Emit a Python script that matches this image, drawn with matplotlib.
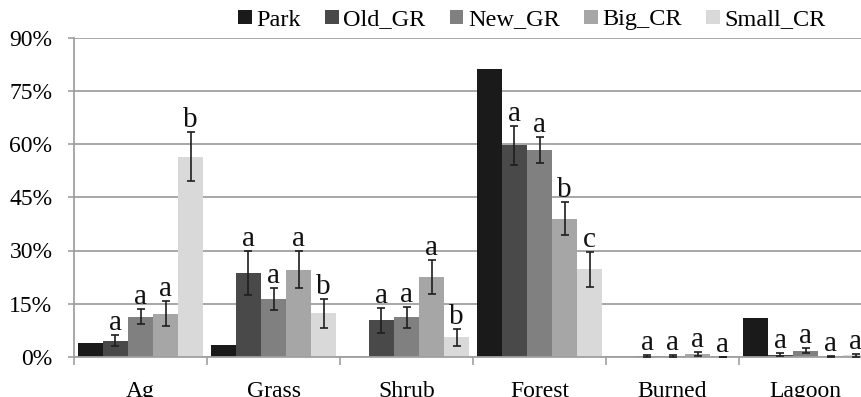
import numpy as np
import matplotlib
matplotlib.use('Agg')
import matplotlib.pyplot as plt
from matplotlib.patches import Patch
from matplotlib.ticker import FixedLocator, PercentFormatter

plt.rcParams['font.family'] = ['Liberation Serif', 'DejaVu Serif']

categories = ['Ag', 'Grass', 'Shrub', 'Forest', 'Burned', 'Lagoon']
series = ['Park', 'Old_GR', 'New_GR', 'Big_CR', 'Small_CR']
colors = ['#1a1a1a', '#494949', '#808080', '#a6a6a6', '#d9d9d9']

# mean percent cover per category
park = [3.9, 3.3, 0.0, 81.1, 0.0, 11.1]
old_gr = [4.6, 23.7, 10.4, 59.6, 0.4, 0.6]
new_gr = [11.4, 16.3, 11.2, 58.4, 0.4, 1.8]
big_cr = [12.2, 24.6, 22.5, 39.0, 0.9, 0.2]
small_cr = [56.4, 12.3, 5.5, 24.7, 0.0, 0.5]

# standard errors (Park has none)
old_gr_err = [1.6, 6.1, 3.5, 5.6, 0.3, 0.4]
new_gr_err = [2.1, 3.2, 3.0, 3.7, 0.3, 0.7]
big_cr_err = [3.6, 5.3, 4.7, 4.6, 0.6, 0.2]
small_cr_err = [6.9, 4.0, 2.4, 5.0, 0.0, 0.4]

# significance letters
old_gr_lab = ['a', 'a', 'a', 'a', 'a', 'a']
new_gr_lab = ['a', 'a', 'a', 'a', 'a', 'a']
big_cr_lab = ['a', 'a', 'a', 'b', 'a', 'a']
small_cr_lab = ['b', 'b', 'b', 'c', 'a', 'a']

values = [park, old_gr, new_gr, big_cr, small_cr]
errors = [None, old_gr_err, new_gr_err, big_cr_err, small_cr_err]
letters = [None, old_gr_lab, new_gr_lab, big_cr_lab, small_cr_lab]

W, H = 861, 397
fig = plt.figure(figsize=(W / 100, H / 100), dpi=100)
ax = fig.add_axes([74 / W, 1 - 357 / H, 798 / W, 319.5 / H])

x = np.arange(len(categories))
bw = 0.188
grid_c = '#a0a0a0'

for k in range(len(series)):
    xs = x + (k - 2) * bw
    ax.bar(xs, values[k], width=bw, color=colors[k], zorder=2)
    if errors[k] is not None:
        ax.errorbar(xs, values[k], yerr=errors[k], fmt='none', ecolor='#1e1e1e',
                    elinewidth=1.2, capsize=3.2, capthick=1.2, zorder=3)
        for xi, v, e, lab in zip(xs, values[k], errors[k], letters[k]):
            ax.text(xi, v + e + 1.4, lab, ha='center', va='baseline',
                    fontsize=21, color='#111111', zorder=4)

ax.set_xlim(-0.5, len(categories) - 0.5)
ax.set_ylim(0, 90)
ax.set_yticks(np.arange(0, 91, 15))
ax.yaxis.set_major_formatter(PercentFormatter(decimals=0))
ax.yaxis.grid(True, color=grid_c, linewidth=1.3, zorder=0)
ax.set_axisbelow(True)

ax.xaxis.set_major_locator(FixedLocator(np.arange(-0.5, len(categories), 1)))
ax.xaxis.set_minor_locator(FixedLocator(x))
ax.set_xticklabels([])
ax.set_xticklabels(categories, minor=True)
ax.tick_params(axis='x', which='major', length=6, width=1.2, color=grid_c, direction='out')
ax.tick_params(axis='x', which='minor', length=0, pad=17, labelsize=17)
ax.tick_params(axis='y', length=4.5, width=1.2, color=grid_c, pad=11, labelsize=17)

for s in ['top', 'right']:
    ax.spines[s].set_visible(False)
for s in ['left', 'bottom']:
    ax.spines[s].set_color(grid_c)
    ax.spines[s].set_linewidth(1.3)

handles = [Patch(facecolor=c, edgecolor='none') for c in colors]
fig.legend(handles, series, loc='center', bbox_to_anchor=(532 / W, 1 - 20 / H),
           ncol=5, frameon=False, fontsize=17.5, handlelength=0.55, handleheight=0.55,
           handletextpad=0.2, columnspacing=1.0, borderpad=0, borderaxespad=0)

fig.savefig('out.png', dpi=100)
